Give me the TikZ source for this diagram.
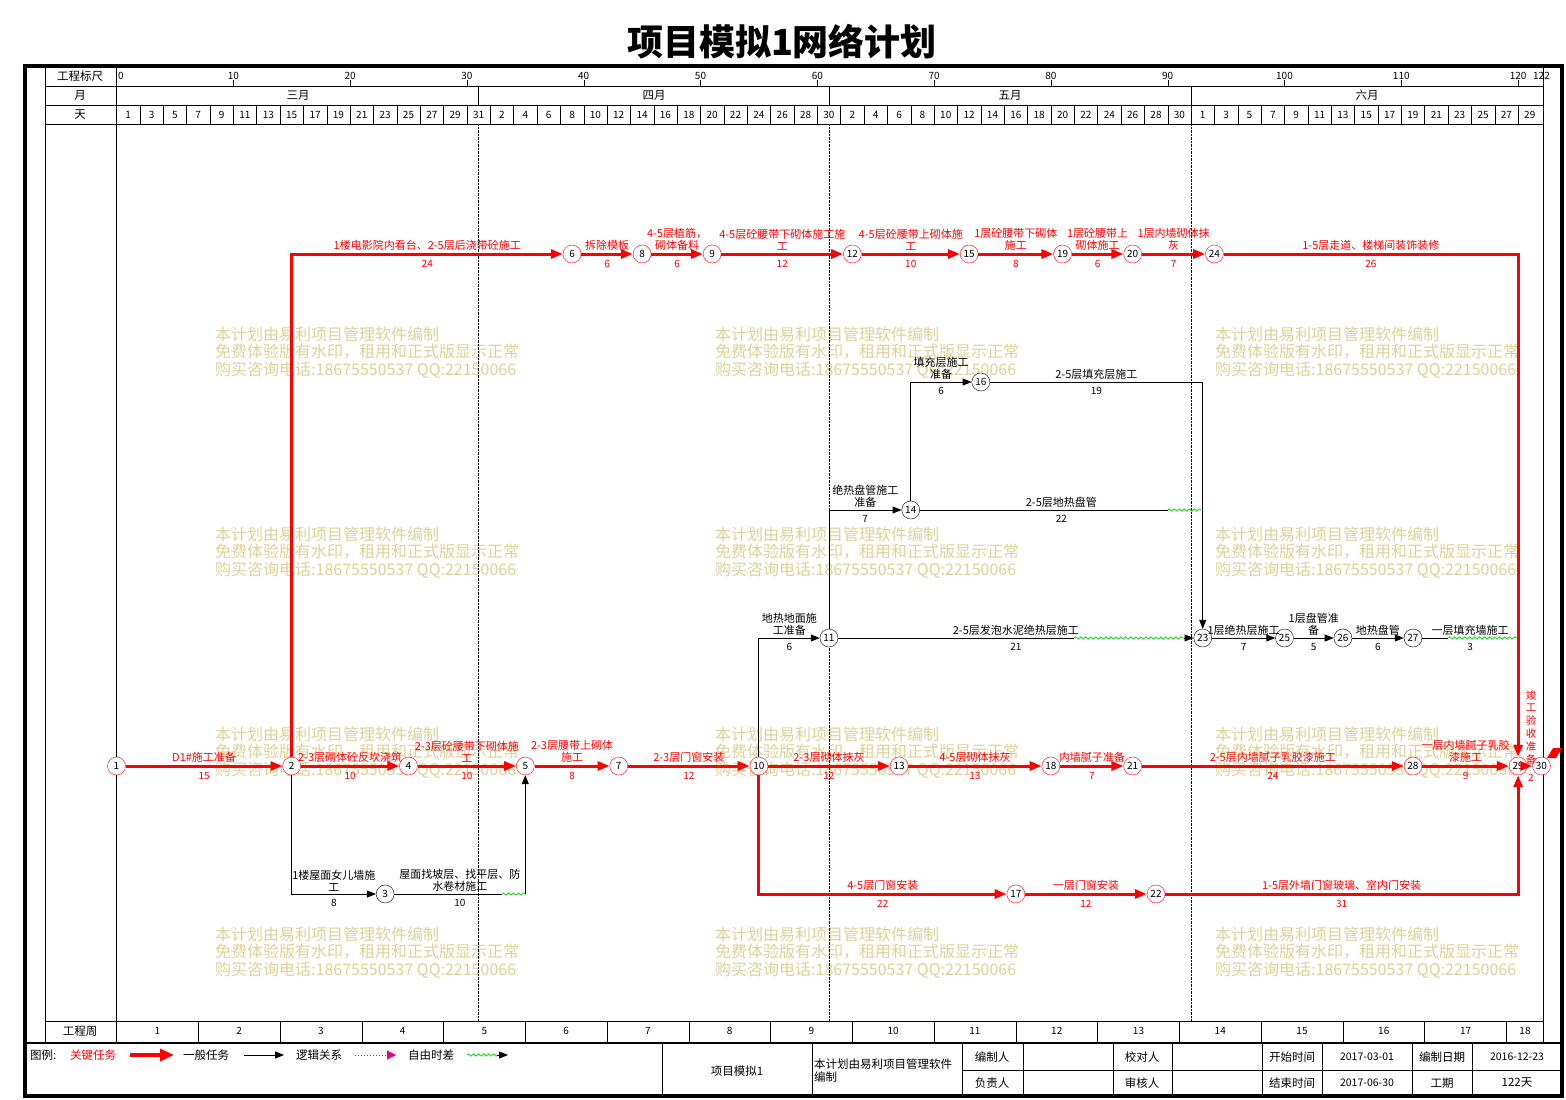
\documentclass[tikz,border=0pt]{standalone}
\usepackage{fontspec}
\setmainfont{Noto Sans CJK SC}
\usepackage{xcolor}
\usepackage{tikz}
\usetikzlibrary{arrows.meta,decorations.pathmorphing}
\newcommand{\dx}[1]{116.5+11.68*(#1)}
\definecolor{wmark}{RGB}{222,208,150}
\definecolor{fgreen}{RGB}{0,225,0}

\begin{document}
\begin{tikzpicture}[x=1pt,y=-1pt,
  ev/.style={circle,draw=red,fill=white,minimum size=18pt,inner sep=0pt,font=\fontsize{10}{10}\selectfont},
  evb/.style={ev,draw=black},
  crit/.style={draw=red,line width=3pt,-{Triangle[length=12pt,width=9pt]}},
  gen/.style={draw=black,line width=0.9pt,-{Triangle[length=9pt,width=7pt]}},
  flt/.style={draw=fgreen,line width=0.8pt,decorate,decoration={snake,amplitude=1.1pt,segment length=5pt}},
  lab/.style={above=1pt,align=center,font=\fontsize{11}{12}\selectfont,inner sep=1pt},
  dur/.style={below=4pt,font=\fontsize{10}{10}\selectfont,inner sep=1pt},
  clab/.style={lab,text=red},
  cdur/.style={dur,text=red},
  wm/.style={anchor=west,text=wmark,font=\fontsize{16}{18}\selectfont,inner sep=0pt},
  hd/.style={font=\fontsize{11.5}{12}\selectfont,inner sep=0pt}]
\useasboundingbox (0,0) rectangle (1566,1100);

\node(title) [font=\fontsize{36}{40}\selectfont\bfseries] at (782,42) {项目模拟1网络计划};

% watermark
\foreach \wx in {215,715,1215}{
  \foreach \wy in {334,534,734,934}{
    \node(wa\wx\wy) [wm] at (\wx,\wy) {本计划由易利项目管理软件编制};
    \node(wb\wx\wy) [wm] at (\wx,\wy+18) {免费体验版有水印，租用和正式版显示正常};
    \node(wc\wx\wy) [wm] at (\wx,\wy+36) {购买咨询电话:18675550537 QQ:22150066};
  }
}

% frame and table
\draw[line width=4pt] (25,66) rectangle (1562,1096);
\draw[line width=2.5pt] (25,1043) -- (1562,1043);
\draw (45,66) -- (45,1043);
\draw (116.5,66) -- (116.5,1043);
\draw (1543,66) -- (1543,1043);
\foreach \hy in {86,105,124,1021} \draw (45,\hy) -- (1543,\hy);
\foreach \m in {31,61,92} {
  \draw ({\dx{\m}},86) -- ({\dx{\m}},105);
  \draw[densely dotted] ({\dx{\m}},124) -- ({\dx{\m}},1021);
}

\node(h1) [hd] at (80,76) {工程标尺};
\node(h2) [hd] at (80,95) {月};
\node(h3) [hd] at (80,114.5) {天};
\node(h4) [hd] at (80,1031) {工程周};

\node(s0) [hd,anchor=west,font=\fontsize{10}{10}\selectfont] at (118,76) {0};
\foreach \t in {10,20,...,120}
  \draw ({\dx{\t}},80) -- ({\dx{\t}},86);
\foreach \t in {10,20,...,110}
  \node(s\t) [hd,font=\fontsize{10}{10}\selectfont] at ({\dx{\t}},75.5) {\t};
\node(s120) [hd,font=\fontsize{10}{10}\selectfont] at ({\dx{120}},75.5) {120};
\node(s122) [hd,font=\fontsize{10}{10}\selectfont] at ({\dx{122}},75.5) {122};

\node(m3) [hd] at (298,95) {三月};
\node(m4) [hd] at (654,95) {四月};
\node(m5) [hd] at (1010,95) {五月};
\node(m6) [hd] at (1367,95) {六月};

\foreach \k in {0,...,60} {
  \pgfmathtruncatemacro\dd{\k<16 ? 2*\k+1 : (\k<31 ? 2*\k-30 : (\k<46 ? 2*\k-60 : 2*\k-91))}
  \node(d\k) [hd,font=\fontsize{10}{10}\selectfont] at ({\dx{2*\k+1}},114.5) {\dd};
  \draw ({\dx{2*\k}},105) -- ({\dx{2*\k}},124);
}

\foreach \w in {1,...,17} {
  \draw ({\dx{7*\w}},1021) -- ({\dx{7*\w}},1043);
  \node(wk\w) [hd,font=\fontsize{10}{10}\selectfont] at ({\dx{7*\w-3.5}},1031) {\w};
}
\node(wk18) [hd,font=\fontsize{10}{10}\selectfont] at (1525,1031) {18};

% events
\node(e1)  [ev]  at ({\dx{0}},766)   {1};
\node(e2)  [ev]  at ({\dx{15}},766)  {2};
\node(e4)  [ev]  at ({\dx{25}},766)  {4};
\node(e5)  [ev]  at ({\dx{35}},766)  {5};
\node(e7)  [ev]  at ({\dx{43}},766)  {7};
\node(e10) [ev]  at ({\dx{55}},766)  {10};
\node(e13) [ev]  at ({\dx{67}},766)  {13};
\node(e18) [ev]  at ({\dx{80}},766)  {18};
\node(e21) [ev]  at ({\dx{87}},766)  {21};
\node(e28) [ev]  at ({\dx{111}},766) {28};
\node(e29) [ev]  at ({\dx{120}},766) {29};
\node(e30) [ev]  at ({\dx{122}},766) {30};
\node(e6)  [ev]  at ({\dx{39}},254)  {6};
\node(e8)  [ev]  at ({\dx{45}},254)  {8};
\node(e9)  [ev]  at ({\dx{51}},254)  {9};
\node(e12) [ev]  at ({\dx{63}},254)  {12};
\node(e15) [ev]  at ({\dx{73}},254)  {15};
\node(e19) [ev]  at ({\dx{81}},254)  {19};
\node(e20) [ev]  at ({\dx{87}},254)  {20};
\node(e24) [ev]  at ({\dx{94}},254)  {24};
\node(e17) [ev]  at ({\dx{77}},894)  {17};
\node(e22) [ev]  at ({\dx{89}},894)  {22};
\node(e3)  [evb] at ({\dx{23}},894)  {3};
\node(e11) [evb] at ({\dx{61}},638)  {11};
\node(e14) [evb] at ({\dx{68}},510)  {14};
\node(e16) [evb] at ({\dx{74}},382)  {16};
\node(e23) [evb] at ({\dx{93}},638)  {23};
\node(e25) [evb] at ({\dx{100}},638) {25};
\node(e26) [evb] at ({\dx{105}},638) {26};
\node(e27) [evb] at ({\dx{111}},638) {27};

% free float ends
\coordinate(f3)  at ({\dx{33}},894);
\coordinate(k3)  at (e5 |- e3);
\coordinate(f14) at ({\dx{90}},510);
\coordinate(k14) at (e23 |- e14);
\coordinate(f11) at ({\dx{82}},638);
\coordinate(k11) at ([xshift=-10pt]e23.west);
\coordinate(f27) at ({\dx{114}},638);
\coordinate(k27) at (e29 |- e27);

% general tasks
\draw[gen] (e2) |- node[lab,pos=0.75](a3){1楼屋面女儿墙施\\工} node[dur,pos=0.75](b3){8} (e3);
\draw[gen,-] (e3) -- (f3);
\draw[flt] (f3) -- (k3);
\draw[gen] (k3) -- (e5);
\path (e3) -- node[lab](a5){屋面找坡层、找平层、防\\水卷材施工} node[dur](b5){10} (k3);
\draw[gen] (e10) |- node[lab,pos=0.75](a11){地热地面施\\工准备} node[dur,pos=0.75](b11){6} (e11);
\draw[gen] (e11) |- node[lab,pos=0.75](a14){绝热盘管施工\\准备} node[dur,pos=0.75](b14){7} (e14);
\draw[gen] (e14) |- node[lab,pos=0.75](a16){填充层施工\\准备} node[dur,pos=0.75](b16){6} (e16);
\draw[gen] (e16) -| node[lab,pos=0.25](a23){2-5层填充层施工} node[dur,pos=0.25](b23){19} (e23);
\draw[gen,-] (e14) -- (f14);
\draw[flt] (f14) -- (k14);
\path (e14) -- node[lab](a1423){2-5层地热盘管} node[dur](b1423){22} (k14);
\draw[gen,-] (e11) -- (f11);
\draw[flt] (f11) -- (k11);
\draw[gen] (k11) -- (e23);
\path (e11) -- node[lab](a1123){2-5层发泡水泥绝热层施工} node[dur](b1123){21} (e23);
\draw[gen] (e23) -- node[lab](a25){1层绝热层施工} node[dur](b25){7} (e25);
\draw[gen] (e25) -- node[lab](a26){1层盘管准\\备} node[dur](b26){5} (e26);
\draw[gen] (e26) -- node[lab](a27){地热盘管} node[dur](b27){6} (e27);
\draw[gen,-] (e27) -- (f27);
\draw[flt] (f27) -- (k27);
\path (e27) -- node[lab](a2729){一层填充墙施工} node[dur](b2729){3} (k27);

% critical tasks
\draw[crit] (e1) -- node[clab](a2){D1\#施工准备} node[cdur](b2){15} (e2);
\draw[crit] (e2) -- node[clab](a4){2-3层砌体砼反坎浇筑} node[cdur](b4){10} (e4);
\draw[crit] (e4) -- node[clab](a45){2-3层砼腰带下砌体施\\工} node[cdur](b45){10} (e5);
\draw[crit] (e5) -- node[clab](a7){2-3层腰带上砌体\\施工} node[cdur](b7){8} (e7);
\draw[crit] (e7) -- node[clab](a10){2-3层门窗安装} node[cdur](b10){12} (e10);
\draw[crit] (e10) -- node[clab](a13){2-3层砌体抹灰} node[cdur](b13){12} (e13);
\draw[crit] (e13) -- node[clab](a18){4-5层砌体抹灰} node[cdur](b18){13} (e18);
\draw[crit] (e18) -- node[clab](a21){内墙腻子准备} node[cdur](b21){7} (e21);
\draw[crit] (e21) -- node[clab](a28){2-5层内墙腻子乳胶漆施工} node[cdur](b28){24} (e28);
\draw[crit] (e28) -- node[clab](a29){一层内墙腻子乳胶\\漆施工} node[cdur](b29){9} (e29);
\draw[crit] (e29) -- (e30);
\node(a30) [text=red,align=center,font=\fontsize{10.5}{12.8}\selectfont,inner sep=0pt] at (1531,727) {竣\\工\\验\\收\\准\\备};
\node(b30) [text=red,font=\fontsize{10}{10}\selectfont,inner sep=0pt] at (1531,778) {2};
\fill[red] (1547,758) -- (1553,748) -- (1562,748) -- (1556,758) -- cycle;

\draw[crit] (e2) |- node[clab,pos=0.75](a6){1楼电影院内看台、2-5层后浇带砼施工} node[cdur,pos=0.75](b6){24} (e6);
\draw[crit] (e6) -- node[clab](a8){拆除模板} node[cdur](b8){6} (e8);
\draw[crit] (e8) -- node[clab](a9){4-5层植筋，\\砌体备料} node[cdur](b9){6} (e9);
\draw[crit] (e9) -- node[clab](a12){4-5层砼腰带下砌体施工施\\工} node[cdur](b12){12} (e12);
\draw[crit] (e12) -- node[clab](a15){4-5层砼腰带上砌体施\\工} node[cdur](b15){10} (e15);
\draw[crit] (e15) -- node[clab](a19){1层砼腰带下砌体\\施工} node[cdur](b19){8} (e19);
\draw[crit] (e19) -- node[clab](a20){1层砼腰带上\\砌体施工} node[cdur](b20){6} (e20);
\draw[crit] (e20) -- node[clab](a24){1层内墙砌体抹\\灰} node[cdur](b24){7} (e24);
\draw[crit] (e24) -| node[clab,pos=0.25](a2429){1-5层走道、楼梯间装饰装修} node[cdur,pos=0.25](b2429){26} (e29);
\draw[crit] (e10) |- node[clab,pos=0.75](a17){4-5层门窗安装} node[cdur,pos=0.75](b17){22} (e17);
\draw[crit] (e17) -- node[clab](a22){一层门窗安装} node[cdur](b22){12} (e22);
\draw[crit] (e22) -| node[clab,pos=0.25](a2229){1-5层外墙门窗玻璃、室内门安装} node[cdur,pos=0.25](b2229){31} (e29);

% legend
\node(lg0) [hd,anchor=west] at (30,1055) {图例:};
\node(lg1) [hd,anchor=west,text=red] at (70,1055) {关键任务};
\draw[red,line width=4pt,-{Triangle[length=14pt,width=12pt]}] (130,1055) -- (174,1055);
\node(lg2) [hd,anchor=west] at (183,1055) {一般任务};
\draw[gen] (244,1055) -- (284,1055);
\node(lg3) [hd,anchor=west] at (296,1055) {逻辑关系};
\draw[magenta,dotted,line width=1pt,-{Triangle[length=9pt,width=9pt]}] (355,1055) -- (396,1055);
\node(lg4) [hd,anchor=west] at (408,1055) {自由时差};
\draw[flt] (467,1055) -- (498,1055);
\draw[gen] (497,1055) -- (508,1055);

% title block
\foreach \fx in {662,812,962,1023,1113,1172,1262,1322,1412,1472}
  \draw (\fx,1043) -- (\fx,1096);
\draw (962,1070) -- (1562,1070);
\node(tb1) [hd] at (737,1071) {项目模拟1};
\node(tb2) [hd,anchor=west,align=left,font=\fontsize{11.5}{13}\selectfont] at (814,1070.5) {本计划由易利项目管理软件\\编制};
\node(tb3) [hd] at (992,1057) {编制人};
\node(tb4) [hd] at (992,1083) {负责人};
\node(tb5) [hd] at (1142,1057) {校对人};
\node(tb6) [hd] at (1142,1083) {审核人};
\node(tb7) [hd] at (1292,1057) {开始时间};
\node(tb8) [hd] at (1292,1083) {结束时间};
\node(tb9) [hd,font=\fontsize{10.5}{11}\selectfont] at (1367,1057) {2017-03-01};
\node(tb10) [hd,font=\fontsize{10.5}{11}\selectfont] at (1367,1083) {2017-06-30};
\node(tb11) [hd] at (1442,1057) {编制日期};
\node(tb12) [hd] at (1442,1083) {工期};
\node(tb13) [hd,font=\fontsize{10.5}{11}\selectfont] at (1517,1057) {2016-12-23};
\node(tb14) [hd] at (1517,1083) {122天};
\end{tikzpicture}
\end{document}
